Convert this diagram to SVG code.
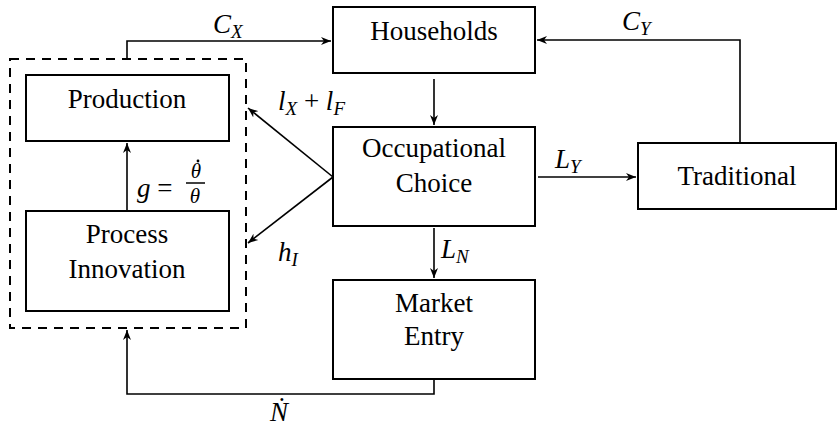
<svg xmlns="http://www.w3.org/2000/svg" width="839" height="427" viewBox="0 0 839 427">
<style>
.lbl{font-family:'Liberation Serif','Times New Roman',serif;font-size:27px;text-anchor:middle;fill:#000}
.math{font-family:'Liberation Serif','Times New Roman',serif;font-size:27px;font-style:italic;fill:#000}
.box{fill:#fff;stroke:#000;stroke-width:2}
.up{font-style:normal}
.sub{font-size:19px}
.con{fill:none;stroke:#000;stroke-width:1.6}
.dash{fill:none;stroke:#000;stroke-width:2;stroke-dasharray:9,7}
</style>
<defs>
<marker id="arr" markerWidth="11" markerHeight="9" refX="10" refY="4.5" orient="auto" markerUnits="userSpaceOnUse">
<path d="M0,0.5 L10,4.5 L0,8.5 L3,4.5 Z" fill="#000"/>
</marker>
</defs>
<rect width="839" height="427" fill="#fff"/>
<g id="group-firm">
<rect class="dash" x="10" y="59" width="236" height="269"/>
</g>
<g id="households">
<rect class="box" x="333" y="7" width="202" height="66"/>
<text class="lbl" x="434" y="40">Households</text>
</g>
<g id="production">
<rect class="box" x="26" y="75" width="203" height="66"/>
<text class="lbl" x="127" y="108">Production</text>
</g>
<g id="process-innovation">
<rect class="box" x="26" y="211" width="203" height="100"/>
<text class="lbl" x="127" y="243">Process</text>
<text class="lbl" x="127" y="278">Innovation</text>
</g>
<g id="occupational-choice">
<rect class="box" x="333" y="127" width="202" height="99"/>
<text class="lbl" x="434" y="157">Occupational</text>
<text class="lbl" x="434" y="192">Choice</text>
</g>
<g id="traditional">
<rect class="box" x="638" y="143" width="198" height="66"/>
<text class="lbl" x="737" y="185">Traditional</text>
</g>
<g id="market-entry">
<rect class="box" x="333" y="280" width="202" height="99"/>
<text class="lbl" x="434" y="312">Market</text>
<text class="lbl" x="434" y="345">Entry</text>
</g>
<g id="connectors">
<path class="con" d="M127,59 V41 H331" marker-end="url(#arr)"/>
<path class="con" d="M740,143 V40 H537" marker-end="url(#arr)"/>
<path class="con" d="M434,79 V125" marker-end="url(#arr)"/>
<path class="con" d="M538,177 H636" marker-end="url(#arr)"/>
<path class="con" d="M434,228 V278" marker-end="url(#arr)"/>
<path class="con" d="M434,379 V394 H127 V330" marker-end="url(#arr)"/>
<path class="con" d="M127,211 V143" marker-end="url(#arr)"/>
<path class="con" d="M333,177 L248,108" marker-end="url(#arr)"/>
<path class="con" d="M333,177 L248,243" marker-end="url(#arr)"/>
</g>
<g id="labels">
<text class="math" x="213" y="33">C<tspan class="sub" dy="5">X</tspan></text>
<text class="math" x="622" y="30">C<tspan class="sub" dy="5">Y</tspan></text>
<text class="math" x="278" y="110">l<tspan class="sub" dy="5">X</tspan><tspan class="up" dy="-5"> + </tspan>l<tspan class="sub" dy="5">F</tspan></text>
<text class="math" x="278" y="261">h<tspan class="sub" dy="5">I</tspan></text>
<text class="math" x="555" y="168">L<tspan class="sub" dy="5">Y</tspan></text>
<text class="math" x="441" y="258">L<tspan class="sub" dy="5">N</tspan></text>
<text class="math" x="137" y="197">g<tspan class="up"> = </tspan></text>
<text class="math" x="196" y="178" style="font-size:21px" text-anchor="middle">θ</text>
<circle cx="198" cy="161" r="1.4" fill="#000"/>
<line x1="186" y1="183" x2="205" y2="183" stroke="#000" stroke-width="1.5"/>
<text class="math" x="195" y="203" style="font-size:21px" text-anchor="middle">θ</text>
<text class="math" x="270" y="421">Ṅ</text>
</g>
</svg>
